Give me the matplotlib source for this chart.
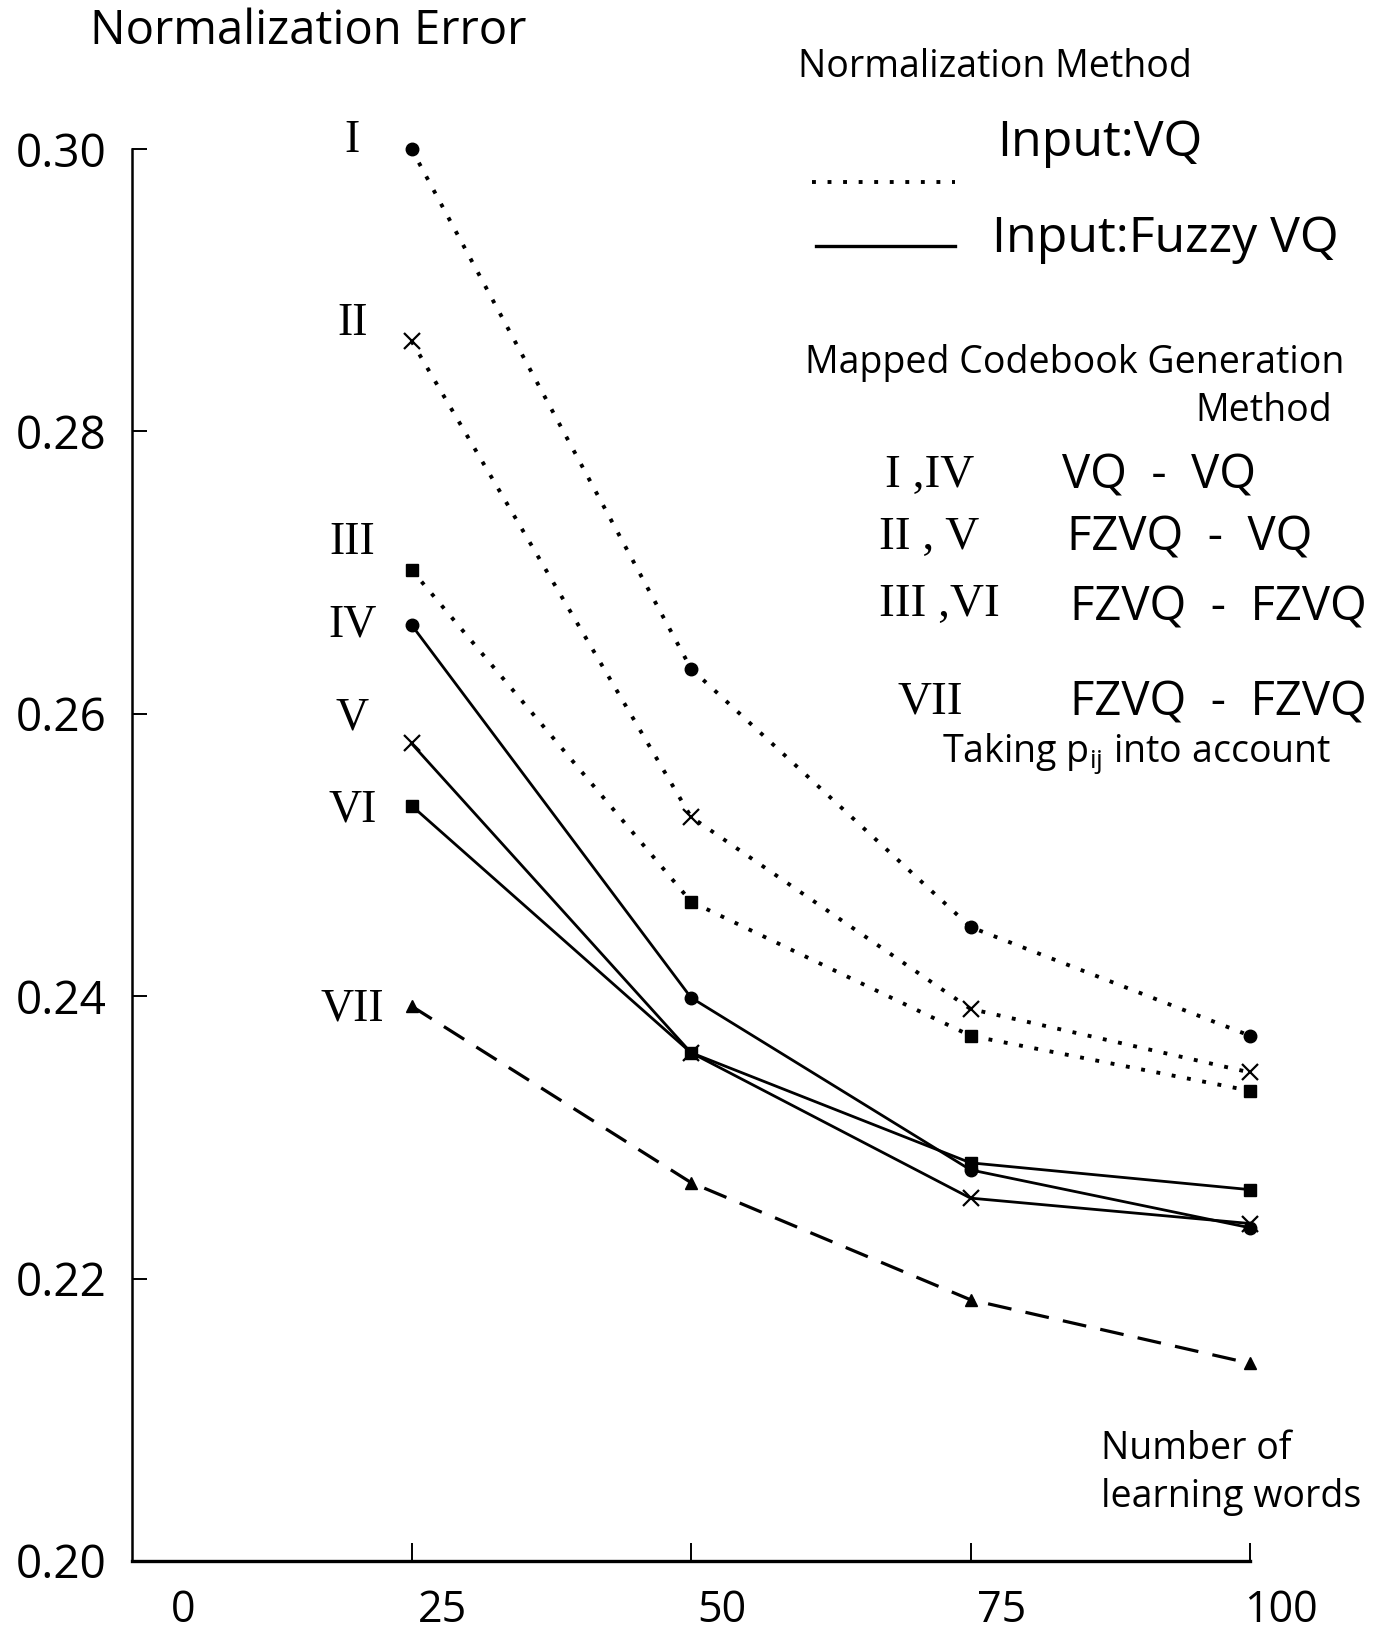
import matplotlib
matplotlib.use("Agg")
import matplotlib.pyplot as plt
import matplotlib.transforms as mtransforms
from matplotlib.lines import Line2D

plt.rcParams['font.family'] = ['Open Sans', 'DejaVu Sans']
plt.rcParams['mathtext.fontset'] = 'custom'
plt.rcParams['mathtext.rm'] = 'Open Sans'
plt.rcParams['mathtext.it'] = 'Open Sans'

# number of learning words
words = [25, 50, 75, 100]

# normalization error
err_I   = [0.3000, 0.2632, 0.2449, 0.2372]
err_II  = [0.2864, 0.2527, 0.2391, 0.2346]
err_III = [0.2702, 0.2467, 0.2372, 0.2333]
err_IV  = [0.2663, 0.2399, 0.2277, 0.2236]
err_V   = [0.2579, 0.2360, 0.2257, 0.2239]
err_VI  = [0.2535, 0.2360, 0.2282, 0.2263]
err_VII = [0.2393, 0.2268, 0.2185, 0.2140]

names = ['I', 'II', 'III', 'IV', 'V', 'VI', 'VII']
series = [err_I, err_II, err_III, err_IV, err_V, err_VI, err_VII]
markers = ['o', 'x', 's', 'o', 'x', 's', '^']
styles = ['dot', 'dot', 'dot', 'solid', 'solid', 'solid', 'dash']
# where the roman numeral labels sit (y in data units)
label_y = [0.3006, 0.2876, 0.2721, 0.2663, 0.2597, 0.2532, 0.2391]

xticks = [0, 25, 50, 75, 100]
yticks = [0.20, 0.22, 0.24, 0.26, 0.28, 0.30]

W, H = 1378, 1632
fig = plt.figure(figsize=(W / 100, H / 100), dpi=100)
ax = fig.add_axes([132 / W, 1 - 1561 / H, (1250 - 132) / W, (1561 - 149) / H])

DOT = (0, (1.0, 3.0))
for ys, m, st in zip(series, markers, styles):
    if st == 'dot':
        lw = 2.8
        ls = DOT
    elif st == 'dash':
        lw = 2.3
        ls = (0, (7.5, 4.5))
    else:
        lw = 2.0
        ls = '-'
    ms = 11 if m == 'x' else 9
    ax.plot(words, ys, color='black', linestyle=ls, linewidth=lw,
            marker=m, markersize=ms, markeredgewidth=1.6 if m == 'x' else 1.0,
            markerfacecolor='black', markeredgecolor='black',
            dash_capstyle='butt', clip_on=False)

for name, y in zip(names, label_y):
    ax.text(19.7, y, name, family='Liberation Serif', fontsize=33,
            ha='center', va='center')

ax.set_xlim(0, 100)
ax.set_ylim(0.20, 0.30)
ax.set_xticks(xticks)
ax.set_xticklabels([str(v) for v in xticks])
ax.set_yticks(yticks)
ax.set_yticklabels(['%.2f' % v for v in yticks])
ax.spines['top'].set_visible(False)
ax.spines['right'].set_visible(False)
ax.spines['left'].set_linewidth(1.8)
ax.spines['bottom'].set_linewidth(2.4)
ax.tick_params(axis='y', direction='in', length=11, width=1.4, pad=18, labelsize=33)
ax.tick_params(axis='x', direction='in', length=13, width=1.4, pad=20, labelsize=31)

shift = mtransforms.ScaledTranslation(0.31, 0, fig.dpi_scale_trans)
shift0 = mtransforms.ScaledTranslation(0.51, 0, fig.dpi_scale_trans)
for i, lab in enumerate(ax.get_xticklabels()):
    lab.set_transform(lab.get_transform() + (shift0 if i == 0 else shift))
ax.xaxis.get_major_ticks()[0].tick1line.set_visible(False)
ax.yaxis.get_major_ticks()[0].tick1line.set_visible(False)


def ftext(x, y, s, **kw):
    kw.setdefault('va', 'center')
    fig.text(x / W, 1 - y / H, s, **kw)


ftext(90, 31, 'Normalization Error', fontsize=34)
ftext(798, 67, 'Normalization Method', fontsize=27)
ftext(997, 143, 'Input:VQ', fontsize=36)
ftext(992, 239, 'Input:Fuzzy VQ', fontsize=36)
fig.add_artist(Line2D([812 / W, 955 / W], [1 - 182 / H, 1 - 182 / H],
                      color='black', linewidth=2.8, linestyle=DOT,
                      dash_capstyle='butt'))
fig.add_artist(Line2D([816 / W, 955 / W], [1 - 246 / H, 1 - 246 / H],
                      color='black', linewidth=2.4))

ftext(805, 363, 'Mapped Codebook Generation', fontsize=27)
ftext(1332, 411, 'Method', fontsize=27, ha='right')

ftext(885, 476, 'I ,IV', family='Liberation Serif', fontsize=34)
ftext(879, 538, 'II , V', family='Liberation Serif', fontsize=34)
ftext(879, 605, 'III ,VI', family='Liberation Serif', fontsize=34)
ftext(897, 702, 'VII', family='Liberation Serif', fontsize=34)
ftext(1062, 476, 'VQ  -  VQ', fontsize=34)
ftext(1067, 538, 'FZVQ  -  VQ', fontsize=34)
ftext(1070, 608, 'FZVQ  -  FZVQ', fontsize=34)
ftext(1070, 703, 'FZVQ  -  FZVQ', fontsize=34)
ftext(942, 754, r'Taking p$_{\mathrm{ij}}$ into account', fontsize=27)

ftext(1101, 1449, 'Number of', fontsize=27)
ftext(1101, 1497, 'learning words', fontsize=27)

fig.savefig('out.png', dpi=100)
